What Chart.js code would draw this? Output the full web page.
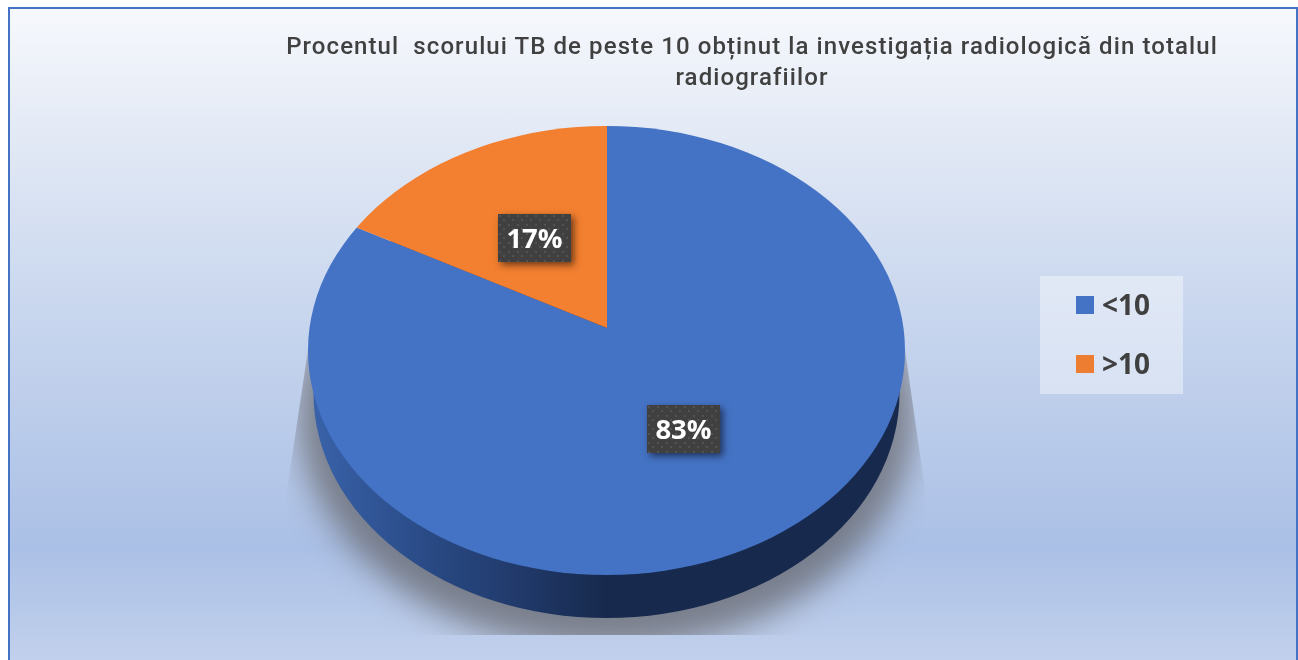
<!DOCTYPE html>
<html lang="ro">
<head>
<meta charset="utf-8">
<title>Scor TB</title>
<script src="https://cdn.jsdelivr.net/npm/chart.js@4"></script>
<style>
  html, body { margin: 0; padding: 0; background: #fff; overflow: hidden; }
  #frame {
    position: absolute; left: 8px; top: 7px; width: 1290px; height: 660px;
    box-sizing: border-box; border: 2px solid #4472c4;
    background: linear-gradient(180deg, #f6f8fc 0%, #e5ebf6 17%, #ccd9ef 42%, #abc0e6 82%, #c2d1ec 100%);
  }
  #chart { position: absolute; left: 0; top: 0; }
  #title {
    position: absolute; left: 252px; top: 31px; width: 1000px; text-align: center;
    font: 500 24px/31px Roboto, sans-serif; letter-spacing: 1.09px; color: #404040; white-space: pre-wrap;
  }
  #legend {
    position: absolute; left: 1040px; top: 276px; width: 143px; height: 118px;
    background: rgba(255, 255, 255, 0.4);
  }
  .item { position: absolute; left: 36px; height: 30px; font: 700 28px/30px "Open Sans", sans-serif; color: #404040; }
  .item i { position: absolute; left: 0; top: 6px; width: 18px; height: 18px; }
  .item span { position: absolute; left: 26px; top: -1px; letter-spacing: 0; }
</style>
</head>
<body>
<div id="frame"></div>
<canvas id="chart" width="1298" height="660"></canvas>
<div id="title"></div>
<div id="legend"></div>
<script>
const TITLE_LINES = [
  "Procentul  scorului TB de peste 10 obținut la investigația radiologică din totalul",
  "radiografiilor",
];
const CATEGORIES = ["<10", ">10"];
const VALUES = [83, 17];
const VALUE_LABELS = ["83%", "17%"];
const COLORS = ["#4472c4", "#f37f30"];
const LEGEND_COLORS = ["#4472c4", "#ed7d31"];

// geometry of the tilted disc
const DISC = { cx: 606.5, cy: 350.5, rx: 298.5, ry: 224.5, depth: 43, floorRx: 293 };
const APEX = { x: 607, y: 328, squash: 0.73, radius: 380 };
const TAGS = [
  { x: 647, y: 405, w: 73, h: 48 },
  { x: 498, y: 214, w: 73, h: 48 },
];

document.getElementById("title").textContent = TITLE_LINES.join("\n");
document.getElementById("legend").innerHTML = CATEGORIES.map(
  (c, i) => `<div class="item" style="top:${14 + i * 59}px"><i style="background:${LEGEND_COLORS[i]}"></i><span></span></div>`,
).join("");
document.querySelectorAll(".item span").forEach((el, i) => { el.textContent = CATEGORIES[i]; });

function dotPattern(ctx) {
  const c = document.createElement("canvas");
  c.width = 9; c.height = 9;
  const p = c.getContext("2d");
  p.fillStyle = "#404040";
  p.fillRect(0, 0, 9, 9);
  p.fillStyle = "#525252";
  p.fillRect(1, 1, 2, 2);
  p.fillRect(5, 5, 2, 2);
  return ctx.createPattern(c, "repeat");
}

// shadow + side wall under the slices
const discBase = {
  id: "discBase",
  beforeDatasetsDraw(chart) {
    const ctx = chart.ctx;
    const arc = chart.getDatasetMeta(0).data[0];

    ctx.save();
    ctx.beginPath();
    ctx.moveTo(308, 350);
    ctx.lineTo(287, 490);
    ctx.lineTo(287, 635);
    ctx.lineTo(925, 635);
    ctx.lineTo(925, 490);
    ctx.lineTo(905, 350);
    ctx.closePath();
    ctx.clip();
    ctx.filter = "blur(16px)";
    ctx.fillStyle = "rgba(95, 95, 100, 0.7)";
    ctx.beginPath();
    ctx.ellipse(DISC.cx, DISC.cy + 62, DISC.rx + 10, DISC.ry + 12, 0, 0, Math.PI * 2);
    ctx.fill();
    ctx.restore();

    const wall = ctx.createLinearGradient(DISC.cx - DISC.rx, 0, DISC.cx, 0);
    wall.addColorStop(0, "#3a63ab");
    wall.addColorStop(0.4, "#294a85");
    wall.addColorStop(0.7, "#213a6b");
    wall.addColorStop(1, "#172a4d");
    ctx.fillStyle = wall;
    ctx.beginPath();
    ctx.ellipse(DISC.cx, DISC.cy + DISC.depth, DISC.floorRx, DISC.ry, 0, 0, Math.PI * 2);
    ctx.fill();

    // slices are squashed around the apex and cut to the disc outline
    ctx.save();
    ctx.beginPath();
    ctx.ellipse(DISC.cx, DISC.cy, DISC.rx, DISC.ry, 0, 0, Math.PI * 2);
    ctx.clip();
    const s = APEX.radius / arc.outerRadius;
    ctx.translate(APEX.x, APEX.y);
    ctx.scale(s, s * APEX.squash);
    ctx.translate(-arc.x, -arc.y);
  },
  afterDatasetsDraw(chart) {
    const ctx = chart.ctx;
    ctx.restore();

    const pattern = dotPattern(ctx);
    TAGS.forEach((t, i) => {
      ctx.save();
      ctx.shadowColor = "rgba(0, 0, 0, 0.55)";
      ctx.shadowBlur = 7;
      ctx.shadowOffsetX = 3;
      ctx.shadowOffsetY = 3;
      ctx.fillStyle = "#404040";
      ctx.fillRect(t.x, t.y, t.w, t.h);
      ctx.restore();
      ctx.save();
      ctx.translate(t.x, t.y);
      ctx.fillStyle = pattern;
      ctx.fillRect(0, 0, t.w, t.h);
      ctx.restore();
      ctx.fillStyle = "#fff";
      ctx.font = "700 27.5px 'Open Sans', sans-serif";
      ctx.textAlign = "center";
      ctx.textBaseline = "middle";
      ctx.fillText(VALUE_LABELS[i], t.x + t.w / 2, t.y + t.h / 2 + 2);
    });
  },
};

new Chart(document.getElementById("chart"), {
  type: "pie",
  data: {
    labels: CATEGORIES,
    datasets: [
      {
        data: VALUES,
        backgroundColor: COLORS,
        borderWidth: 0,
        clip: false,
      },
    ],
  },
  options: {
    responsive: false,
    animation: false,
    plugins: {
      legend: { display: false },
      tooltip: { enabled: false },
    },
  },
  plugins: [discBase],
});
</script>
</body>
</html>
